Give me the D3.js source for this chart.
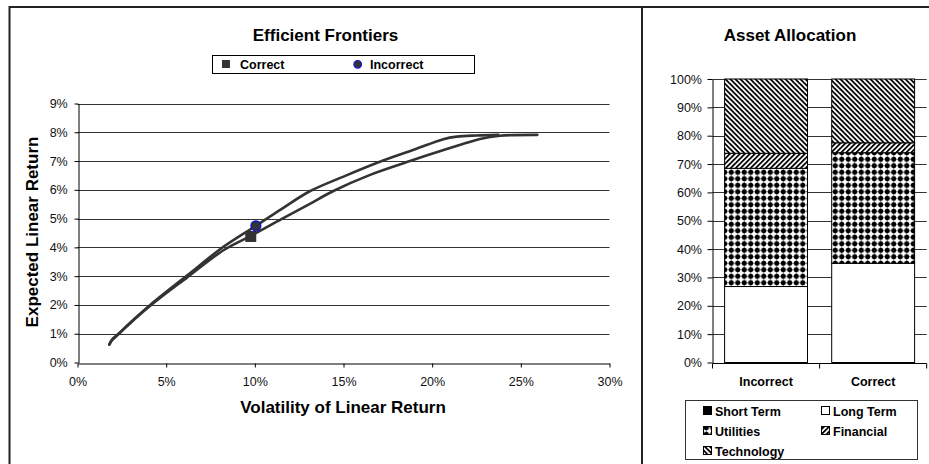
<!DOCTYPE html>
<html>
<head>
<meta charset="utf-8">
<script src="https://cdn.jsdelivr.net/npm/d3@7"></script>
<style>
  html, body { margin: 0; padding: 0; background: #fff; }
  svg { display: block; font-family: Arial, "Liberation Sans", sans-serif; }
</style>
</head>
<body>
<svg id="chart" width="929" height="464"></svg>
<script>
// ---- Efficient frontier data (volatility %, expected return %) ----
const incorrectVol = [1.79, 1.95, 2.31, 3.0, 4.1, 6.17, 8.23, 10.06, 11.5, 13.1, 15.0, 17.16, 19.0, 20.63, 21.39, 22.5, 23.73];
const incorrectRet = [0.62, 0.80, 1.00, 1.40, 2.00, 3.02, 4.02, 4.75, 5.33, 5.95, 6.46, 7.00, 7.40, 7.76, 7.85, 7.89, 7.91];
const correctVol = [1.79, 1.95, 2.31, 3.0, 4.1, 6.17, 8.23, 9.9, 11.5, 13.0, 14.43, 16.5, 18.75, 20.07, 21.5, 22.7, 23.83, 25.93];
const correctRet = [0.62, 0.78, 0.98, 1.38, 1.97, 2.95, 3.90, 4.44, 4.98, 5.48, 5.96, 6.52, 7.00, 7.27, 7.55, 7.77, 7.88, 7.91];

// Portfolio markers
const markerNames = ["Correct", "Incorrect"];
const markerVol = [9.77, 10.06];
const markerRet = [4.38, 4.75];

const volTicks = [0, 5, 10, 15, 20, 25, 30];
const retTicks = [0, 1, 2, 3, 4, 5, 6, 7, 8, 9];

// ---- Asset allocation data (% of portfolio) ----
const allocCategories = ["Incorrect", "Correct"];
const assetClasses = ["Short Term", "Long Term", "Utilities", "Financial", "Technology"];
const shortTerm = [0, 0];
const longTerm = [26.8, 35.0];
const utilities = [41.7, 39.0];
const financial = [5.3, 3.5];
const technology = [26.2, 22.5];
const pctTicks = [0, 10, 20, 30, 40, 50, 60, 70, 80, 90, 100];

const svg = d3.select("#chart");
const ink = "#000";
const lineInk = "#333";
const tickFont = 12.5;

// ---- fill patterns ----
const defs = svg.append("defs");
function stripePattern(id, mirror) {
  const s = 5, w = 2.5;
  const p = defs.append("pattern").attr("id", id).attr("patternUnits", "userSpaceOnUse")
    .attr("width", s).attr("height", s);
  p.append("rect").attr("width", s).attr("height", s).attr("fill", "#fff");
  // a diagonal band of width w (measured horizontally), wrapped across the tile
  let a = [[0, 0], [w, 0], [s, s - w], [s, s]];
  let b = [[0, s - w], [w, s], [0, s]];
  if (mirror) { a = a.map(([px, py]) => [s - px, py]); b = b.map(([px, py]) => [s - px, py]); }
  [a, b].forEach(poly => p.append("polygon").attr("points", poly.map(q => q.join(",")).join(" "))
    .attr("fill", "#000"));
}
stripePattern("pat-tech", false);
stripePattern("pat-fin", true);
{
  const s = 6.5;
  const p = defs.append("pattern").attr("id", "pat-util").attr("patternUnits", "userSpaceOnUse")
    .attr("width", s).attr("height", s);
  p.append("rect").attr("width", s).attr("height", s).attr("fill", "#fff");
  const c = s / 2, r = 3.0;
  p.append("polygon").attr("points", `${c},${c - r} ${c + r},${c} ${c},${c + r} ${c - r},${c}`).attr("fill", "#000");
  p.append("circle").attr("cx", c).attr("cy", c).attr("r", 2.5).attr("fill", "#000");
}
const assetFill = {
  "Short Term": "#000",
  "Long Term": "#fff",
  "Utilities": "url(#pat-util)",
  "Financial": "url(#pat-fin)",
  "Technology": "url(#pat-tech)"
};

// ---- panel frames ----
svg.append("line").attr("x1", 9).attr("x2", 929).attr("y1", 7).attr("y2", 7)
  .attr("stroke", "#222").attr("stroke-width", 2);
svg.append("line").attr("x1", 9.5).attr("x2", 9.5).attr("y1", 6).attr("y2", 464)
  .attr("stroke", "#222").attr("stroke-width", 2);
svg.append("line").attr("x1", 642).attr("x2", 642).attr("y1", 6).attr("y2", 464)
  .attr("stroke", "#222").attr("stroke-width", 2);

// ================= Efficient Frontiers =================
const x = d3.scaleLinear().domain([0, 30]).range([77.5, 609.5]);
const y = d3.scaleLinear().domain([0, 9]).range([362.5, 103.5]);

svg.append("text").attr("x", 325.5).attr("y", 41).attr("text-anchor", "middle")
  .attr("font-size", 17).attr("font-weight", "bold").text("Efficient Frontiers");

// gridlines
svg.append("g").selectAll("line").data(retTicks.filter(d => d > 0)).join("line")
  .attr("x1", x(0)).attr("x2", x(30))
  .attr("y1", d => Math.round(y(d)) + 0.5).attr("y2", d => Math.round(y(d)) + 0.5)
  .attr("stroke", "#333").attr("stroke-width", 1);

// axes
const xAxis = svg.append("g").attr("transform", `translate(0,${Math.round(y(0)) + 0.5})`)
  .call(d3.axisBottom(x).tickValues(volTicks).tickFormat(d => d + "%").tickSize(4).tickSizeOuter(0));
const yAxis = svg.append("g").attr("transform", `translate(${Math.round(x(0)) + 0.5},0)`)
  .call(d3.axisLeft(y).tickValues(retTicks).tickFormat(d => d + "%").tickSize(4).tickSizeOuter(0));
[xAxis, yAxis].forEach(g => {
  g.selectAll("path, line").attr("stroke", ink);
  g.selectAll("text").attr("font-size", tickFont).attr("fill", "#111")
    .attr("font-family", "Arial, 'Liberation Sans', sans-serif");
});
xAxis.selectAll("text").attr("dy", "1.2em");
yAxis.selectAll("text").attr("dx", "-0.3em");

svg.append("text").attr("x", 343).attr("y", 413).attr("text-anchor", "middle")
  .attr("font-size", 17).attr("font-weight", "bold").text("Volatility of Linear Return");
svg.append("text").attr("transform", `translate(38,232) rotate(-90)`).attr("text-anchor", "middle")
  .attr("font-size", 17).attr("font-weight", "bold").text("Expected Linear Return");

// frontier curves
const line = d3.line().x(d => x(d[0])).y(d => y(d[1])).curve(d3.curveCatmullRom.alpha(0.5));
const frontiers = [
  d3.zip(incorrectVol, incorrectRet),
  d3.zip(correctVol, correctRet)
];
svg.append("g").selectAll("path").data(frontiers).join("path")
  .attr("d", line).attr("fill", "none").attr("stroke", lineInk)
  .attr("stroke-width", 2.6).attr("stroke-linecap", "round").attr("stroke-linejoin", "round");

// markers
svg.append("rect").attr("x", x(markerVol[0]) - 5.5).attr("y", y(markerRet[0]) - 5.5)
  .attr("width", 11).attr("height", 11).attr("fill", lineInk);
svg.append("circle").attr("cx", x(markerVol[1])).attr("cy", y(markerRet[1])).attr("r", 5)
  .attr("fill", lineInk).attr("stroke", "#1010e0").attr("stroke-width", 1.2);

// legend
svg.append("rect").attr("x", 212.5).attr("y", 55.5).attr("width", 262).attr("height", 18)
  .attr("fill", "#fff").attr("stroke", ink).attr("stroke-width", 1);
svg.append("rect").attr("x", 222).attr("y", 60).attr("width", 8).attr("height", 8).attr("fill", lineInk);
svg.append("text").attr("x", 240).attr("y", 69).attr("font-size", 12.5).attr("font-weight", "bold").text(markerNames[0]);
svg.append("circle").attr("cx", 357.7).attr("cy", 64.3).attr("r", 3.8)
  .attr("fill", lineInk).attr("stroke", "#1010e0").attr("stroke-width", 1.2);
svg.append("text").attr("x", 370).attr("y", 69).attr("font-size", 12.5).attr("font-weight", "bold").text(markerNames[1]);

// ================= Asset Allocation =================
const xb = d3.scaleBand().domain(allocCategories).range([712.5, 926.7]).paddingInner(0.226).paddingOuter(0.113);
const yb = d3.scaleLinear().domain([0, 100]).range([362.5, 79]);

svg.append("text").attr("x", 790).attr("y", 41).attr("text-anchor", "middle")
  .attr("font-size", 17).attr("font-weight", "bold").text("Asset Allocation");

svg.append("g").selectAll("line").data(pctTicks.filter(d => d > 0)).join("line")
  .attr("x1", 712.5).attr("x2", 926.7)
  .attr("y1", d => Math.round(yb(d)) + 0.5).attr("y2", d => Math.round(yb(d)) + 0.5)
  .attr("stroke", "#333");

const rows = allocCategories.map((c, i) => ({
  category: c,
  "Short Term": shortTerm[i], "Long Term": longTerm[i], "Utilities": utilities[i],
  "Financial": financial[i], "Technology": technology[i]
}));
const stacked = d3.stack().keys(assetClasses)(rows);
svg.append("g").selectAll("g").data(stacked).join("g")
  .attr("fill", d => assetFill[d.key])
  .selectAll("rect").data(d => d.filter(s => s[1] - s[0] > 0)).join("rect")
  .attr("x", d => xb(d.data.category))
  .attr("width", xb.bandwidth())
  .attr("y", d => yb(d[1]))
  .attr("height", d => yb(d[0]) - yb(d[1]))
  .attr("stroke", ink).attr("stroke-width", 1);

const ybAxis = svg.append("g").attr("transform", "translate(712.5,0)")
  .call(d3.axisLeft(yb).tickValues(pctTicks).tickFormat(d => d + "%").tickSize(5).tickSizeOuter(0));
ybAxis.selectAll("path, line").attr("stroke", ink);
ybAxis.selectAll("text").attr("font-size", tickFont).attr("fill", "#111").attr("dx", "-0.2em")
  .attr("font-family", "Arial, 'Liberation Sans', sans-serif");

// category axis with boundary ticks
const baseY = Math.round(yb(0)) + 0.5;
svg.append("line").attr("x1", 712.5).attr("x2", 926.7).attr("y1", baseY).attr("y2", baseY).attr("stroke", ink);
const bounds = [712.5, (xb("Incorrect") + xb.bandwidth() + xb("Correct")) / 2, 926.7];
svg.append("g").selectAll("line").data(bounds).join("line")
  .attr("x1", d => d).attr("x2", d => d).attr("y1", baseY).attr("y2", baseY + 5).attr("stroke", ink);
svg.append("g").selectAll("text").data(allocCategories).join("text")
  .attr("x", d => xb(d) + xb.bandwidth() / 2).attr("y", 385.5)
  .attr("text-anchor", "middle").attr("font-size", 12.5).attr("font-weight", "bold").text(d => d);

// allocation legend
svg.append("rect").attr("x", 685.5).attr("y", 400.5).attr("width", 232).attr("height", 59)
  .attr("fill", "#fff").attr("stroke", "#333").attr("stroke-width", 1);
const legendPos = [[703, 411], [821, 411], [703, 431], [821, 431], [703, 451]];
const leg = svg.append("g").selectAll("g").data(assetClasses).join("g")
  .attr("transform", (d, i) => `translate(${legendPos[i][0]},${legendPos[i][1]})`);
leg.append("rect").attr("x", 0.5).attr("y", -4.5).attr("width", 8).attr("height", 8)
  .attr("fill", d => assetFill[d]).attr("stroke", ink).attr("stroke-width", 1);
leg.append("text").attr("x", 12).attr("y", 4.5).attr("font-size", 12.5).attr("font-weight", "bold").text(d => d);
</script>
</body>
</html>
